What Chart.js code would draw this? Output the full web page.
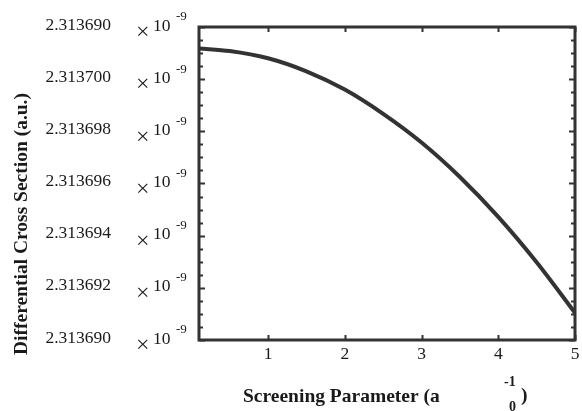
<!DOCTYPE html>
<html>
<head>
<meta charset="utf-8">
<script src="https://cdn.jsdelivr.net/npm/chart.js@4.4.0/dist/chart.umd.min.js"></script>
<style>
  html, body { margin: 0; padding: 0; background: #fff; }
  #wrap { width: 582px; height: 411px; }
</style>
</head>
<body>
<div id="wrap"><canvas id="crossSec"></canvas></div>
<script>
// screening parameter (x) and differential cross section (x10^-9 a.u.)
const screening = [0.1, 0.5, 1.0, 1.5, 2.0, 2.5, 3.0, 3.5, 4.0, 4.5, 5.0];
const crossSection = [2.31370118, 2.31370108, 2.31370080, 2.31370030, 2.31369960,
                      2.31369867, 2.31369757, 2.31369625, 2.31369472, 2.31369298, 2.31369104];

const yMajorTicks = [2.313690, 2.313692, 2.313694, 2.313696, 2.313698, 2.313700, 2.313702];
const yTickLabels = ['2.313690', '2.313692', '2.313694', '2.313696', '2.313698', '2.313700', '2.313690'];
const xTicks = [1, 2, 3, 4, 5];

const ink = '#333333';
const txt = '#1a1a1a';
const serif = '"Liberation Serif", "Times New Roman", serif';

const framePlugin = {
    id: 'frame',
    afterDraw(chart) {
        const c = chart.ctx;
        const a = chart.chartArea;
        const xs = chart.scales.x, ys = chart.scales.y;
        c.save();
        c.strokeStyle = ink;
        c.lineWidth = 3;
        c.strokeRect(a.left, a.top, a.right - a.left, a.bottom - a.top);

        // y ticks, major + 3 minor between
        c.lineWidth = 2;
        const yMin = yMajorTicks[0], yMax = yMajorTicks[yMajorTicks.length - 1];
        const step = (yMajorTicks[1] - yMajorTicks[0]) / 4;
        for (let i = 0; i <= Math.round((yMax - yMin) / step); i++) {
            const v = yMin + i * step;
            const py = Math.round(ys.getPixelForValue(v)) + 0.5;
            const len = (i % 4 === 0) ? 6 : 4;
            c.beginPath();
            c.moveTo(a.left, py); c.lineTo(a.left + len, py);
            c.moveTo(a.right, py); c.lineTo(a.right - len, py);
            c.stroke();
        }
        xTicks.forEach(v => {
            const px = Math.round(xs.getPixelForValue(v)) + 0.5;
            c.beginPath();
            c.moveTo(px, a.bottom); c.lineTo(px, a.bottom - 5);
            c.moveTo(px, a.top); c.lineTo(px, a.top + 5);
            c.stroke();
        });

        // y tick labels with x10^-9
        c.fillStyle = txt;
        c.textBaseline = 'middle';
        yMajorTicks.forEach((v, i) => {
            const py = ys.getPixelForValue(v);
            c.textAlign = 'right';
            c.font = '17.5px ' + serif;
            c.fillText(yTickLabels[i], 111, py - 2);
            c.textAlign = 'left';
            c.font = '24px ' + serif;
            c.fillText('\u00d7', 136, py + 6);
            c.font = '17.5px ' + serif;
            c.fillText('10', 153, py - 1);
            c.font = '13px ' + serif;
            c.fillText('-9', 176, py - 10);
        });

        // x tick labels
        c.textAlign = 'center';
        c.font = '17.5px ' + serif;
        xTicks.forEach(v => {
            c.fillText(String(v), xs.getPixelForValue(v), 354);
        });

        // x title
        c.font = 'bold 19.5px ' + serif;
        c.textAlign = 'left';
        c.fillText('Screening Parameter (a', 243, 397);
        c.font = 'bold 14px ' + serif;
        c.fillText('-1', 504, 382);
        c.fillText('0', 509, 407);
        c.font = 'bold 19.5px ' + serif;
        c.fillText(')', 521, 396);

        // y title
        c.translate(22, 224);
        c.rotate(-Math.PI / 2);
        c.textAlign = 'center';
        c.fillText('Differential Cross Section (a.u.)', 0, 0);
        c.restore();
    }
};

const ctx = document.getElementById('crossSec');

const myChart = new Chart(ctx, {
    type: 'line',
    data: {
        datasets: [
            {
                data: screening.map((x, i) => ({ x: x, y: crossSection[i] })),
                borderColor: ink,
                borderWidth: 4,
                pointRadius: 0,
                cubicInterpolationMode: 'monotone',
                fill: false
            }
        ]
    },
    options: {
        responsive: true,
        maintainAspectRatio: false,
        animation: false,
        layout: { padding: { top: 27, right: 7, left: 0, bottom: 0 } },
        plugins: { legend: { display: false }, tooltip: { enabled: false } },
        scales: {
            x: {
                type: 'linear',
                min: 0.1,
                max: 5,
                grid: { display: false },
                border: { display: false },
                ticks: { display: false },
                afterFit(scale) { scale.height = 71; }
            },
            y: {
                min: yMajorTicks[0],
                max: yMajorTicks[yMajorTicks.length - 1],
                grid: { display: false },
                border: { display: false },
                ticks: { display: false },
                afterFit(scale) { scale.width = 199; }
            }
        }
    },
    plugins: [framePlugin]
});
</script>
</body>
</html>
